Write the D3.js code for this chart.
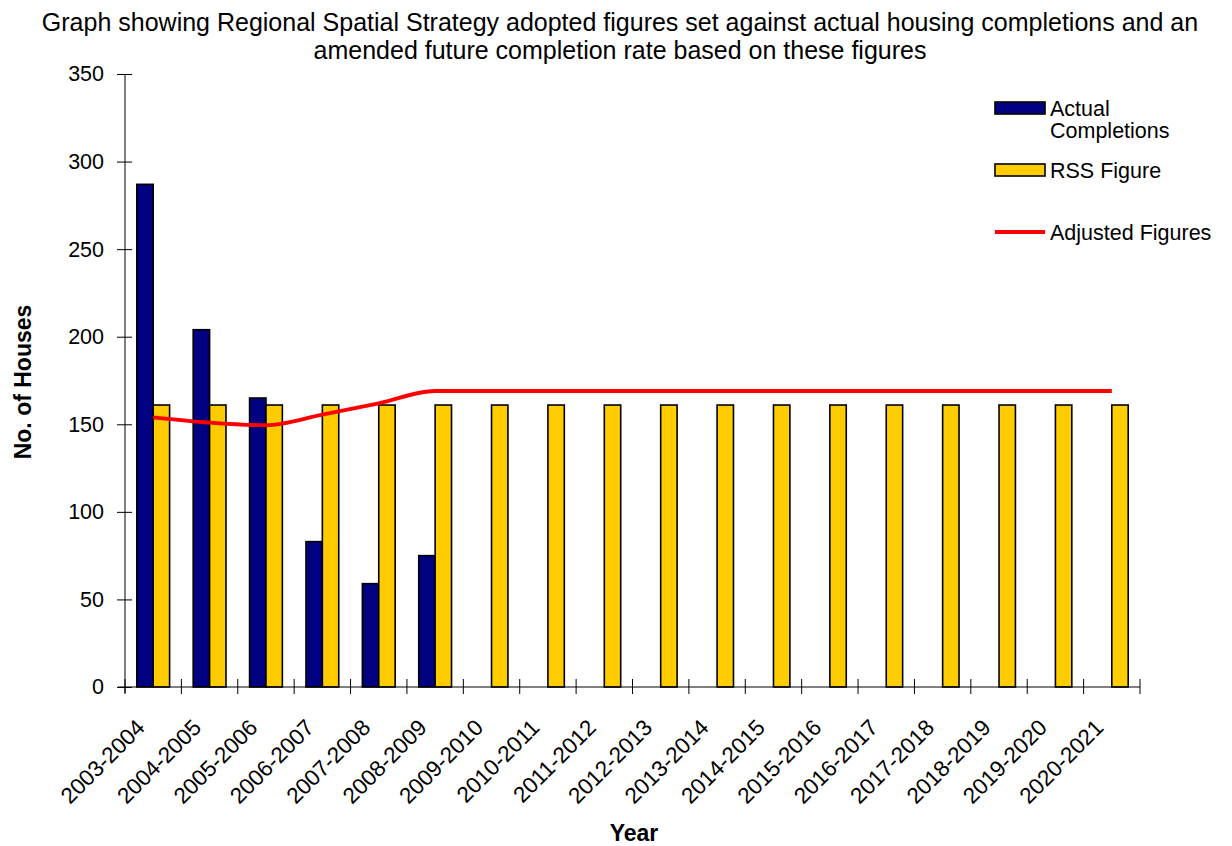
<!DOCTYPE html>
<html><head><meta charset="utf-8">
<script src="https://cdn.jsdelivr.net/npm/d3@7"></script>
<style>
body{margin:0;background:#fff;}
svg{display:block;font-family:"Liberation Sans",Arial,sans-serif;}
</style></head>
<body>
<svg id="c" width="1232" height="846"></svg>
<script>
const categories = ["2003-2004","2004-2005","2005-2006","2006-2007","2007-2008","2008-2009","2009-2010","2010-2011","2011-2012","2012-2013","2013-2014","2014-2015","2015-2016","2016-2017","2017-2018","2018-2019","2019-2020","2020-2021"];
const actualCompletions = [287,204,165,83,59,75,null,null,null,null,null,null,null,null,null,null,null,null];
const rssFigure = [161,161,161,161,161,161,161,161,161,161,161,161,161,161,161,161,161,161];
const adjustedFigures = [154,151,149.5,155.5,162,169,169,169,169,169,169,169,169,169,169,169,169,169];
const yTicks = [0,50,100,150,200,250,300,350];
const seriesNames = ["Actual Completions","RSS Figure","Adjusted Figures"];
const colors = {actual:"#000080", rss:"#FFCC00", adj:"#FF0000"};

const svg = d3.select("#c");
const mL=125, mR=1140, mT=74, mB=687;
const x = d3.scaleBand().domain(categories).range([mL,mR]).padding(0);
const x1 = d3.scaleBand().domain(["actual","rss"]).range([0,x.bandwidth()]).paddingInner(0).paddingOuter(0.72);
const y = d3.scaleLinear().domain([0,350]).range([mB,mT]);

// title
const title = svg.append("text").attr("x",620).attr("text-anchor","middle").attr("font-size",25).attr("fill","#000");
title.append("tspan").attr("x",620).attr("y",31).text("Graph showing Regional Spatial Strategy adopted figures set against actual housing completions and an");
title.append("tspan").attr("x",620).attr("y",59).text("amended future completion rate based on these figures");

// bars
const g = svg.append("g");
categories.forEach((c,i)=>{
  if(actualCompletions[i]!=null){
    g.append("rect").attr("x",x(c)+x1("actual")).attr("y",y(actualCompletions[i]))
     .attr("width",x1.bandwidth()).attr("height",y(0)-y(actualCompletions[i]))
     .attr("fill",colors.actual).attr("stroke","#000").attr("stroke-width",1.6);
  }
  g.append("rect").attr("x",x(c)+x1("rss")).attr("y",y(rssFigure[i]))
   .attr("width",x1.bandwidth()).attr("height",y(0)-y(rssFigure[i]))
   .attr("fill",colors.rss).attr("stroke","#000").attr("stroke-width",1.6);
});

// line
const line = d3.line().x((d,i)=>x(categories[i])+x.bandwidth()/2).y(d=>y(d)).curve(d3.curveMonotoneX);
svg.append("path").datum(adjustedFigures).attr("d",line).attr("fill","none").attr("stroke",colors.adj).attr("stroke-width",3.8);

// y axis
const yAxis = svg.append("g").attr("transform",`translate(${mL},0)`)
  .call(d3.axisLeft(y).tickValues(yTicks).tickSize(8).tickPadding(13));
yAxis.select(".domain").remove();
yAxis.append("line").attr("x1",0).attr("x2",0).attr("y1",mT).attr("y2",mB+6).attr("stroke","#000");
yAxis.selectAll(".tick line").attr("x1",-8).attr("x2",7).attr("stroke","#000");
yAxis.selectAll(".tick text").attr("font-size",21.5).attr("fill","#000").attr("font-family","Liberation Sans, Arial, sans-serif");

// x axis
const xg = svg.append("g");
xg.append("line").attr("x1",mL-7).attr("x2",mR).attr("y1",mB).attr("y2",mB).attr("stroke","#000");
const bounds = categories.map(c=>x(c)).concat([x(categories[categories.length-1])+x.bandwidth()]);
bounds.forEach(b=>{
  xg.append("line").attr("x1",b).attr("x2",b).attr("y1",mB-8).attr("y2",mB+7).attr("stroke","#000");
});
categories.forEach(c=>{
  xg.append("text").attr("transform",`translate(${x(c)+x.bandwidth()/2 - 7},${mB+42}) rotate(-45)`)
    .attr("text-anchor","end").attr("font-size",22.5).attr("fill","#000").text(c);
});

// axis titles
svg.append("text").attr("x",634).attr("y",841).attr("text-anchor","middle").attr("font-size",23).attr("font-weight","bold").text("Year");
svg.append("text").attr("transform","translate(31,382) rotate(-90)").attr("text-anchor","middle").attr("font-size",23).attr("font-weight","bold").text("No. of Houses");

// legend
const lg = svg.append("g");
lg.append("rect").attr("x",995).attr("y",102).attr("width",50).attr("height",12).attr("fill",colors.actual).attr("stroke","#000").attr("stroke-width",1.6);
lg.append("text").attr("x",1050).attr("y",116).attr("font-size",21.5).text("Actual");
lg.append("text").attr("x",1050).attr("y",138).attr("font-size",21.5).text("Completions");
lg.append("rect").attr("x",995).attr("y",164).attr("width",50).attr("height",12).attr("fill",colors.rss).attr("stroke","#000").attr("stroke-width",1.6);
lg.append("text").attr("x",1050).attr("y",178).attr("font-size",21.5).text(seriesNames[1]);
lg.append("line").attr("x1",995).attr("x2",1045).attr("y1",232).attr("y2",232).attr("stroke",colors.adj).attr("stroke-width",3.8);
lg.append("text").attr("x",1050).attr("y",240).attr("font-size",21.5).text(seriesNames[2]);
</script>
</body></html>
